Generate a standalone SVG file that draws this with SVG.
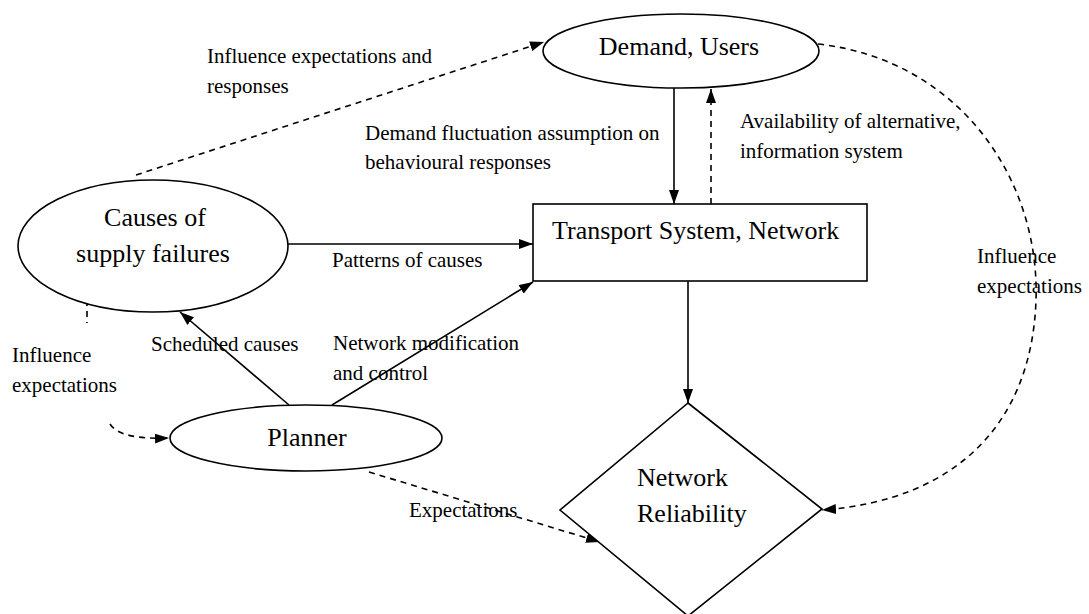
<svg xmlns="http://www.w3.org/2000/svg" width="1089" height="614" viewBox="0 0 1089 614">
<style>
.node{fill:#fff;stroke:#000;stroke-width:1.6}
.t{font-family:"Liberation Serif","Times New Roman",serif;fill:#000}
.nt{font-size:26px}
.lt{font-size:21px}
.c{fill:none;stroke:#000;stroke-width:1.6}
.d{stroke-dasharray:6 5}
</style>
<defs>
<marker id="ah" markerWidth="14" markerHeight="10" refX="14" refY="5" orient="auto" markerUnits="userSpaceOnUse">
<path d="M0,0 L14,5 L0,10 Z" fill="#000"/>
</marker>
</defs>
<rect width="1089" height="614" fill="#fff"/>
<g id="connectors">
<path class="c" d="M674,88 L674,204" marker-end="url(#ah)"/>
<path class="c d" d="M711,204 L711,89" marker-end="url(#ah)"/>
<path class="c" d="M288,244 L533,244" marker-end="url(#ah)"/>
<path class="c" d="M332,405 L533,282" marker-end="url(#ah)"/>
<path class="c" d="M289,405 L180,312" marker-end="url(#ah)"/>
<path class="c" d="M688,281 L688,403" marker-end="url(#ah)"/>
<path class="c d" d="M136,175 L544,42" marker-end="url(#ah)"/>
<path class="c d" d="M818,44 C960,60 1040,180 1036,300 C1032,420 960,500 822,510" marker-end="url(#ah)"/>
<path class="c d" d="M87,300 L87,323"/>
<path class="c d" d="M110,424 Q120,440 169,438" marker-end="url(#ah)"/>
<path class="c d" d="M369,472 L600,542" marker-end="url(#ah)"/>
</g>
<g id="demand">
<ellipse class="node" cx="681" cy="51" rx="138" ry="37"/>
<text class="t nt" x="679" y="55" text-anchor="middle">Demand, Users</text>
</g>
<g id="transport">
<rect class="node" x="533" y="204" width="334" height="77"/>
<text class="t nt" x="552" y="239">Transport System, Network</text>
</g>
<g id="causes">
<ellipse class="node" cx="153" cy="246" rx="135" ry="66"/>
<text class="t nt" x="155" y="226" text-anchor="middle" font-size="27">Causes of</text>
<text class="t nt" x="153" y="262" text-anchor="middle" font-size="27">supply failures</text>
</g>
<g id="planner">
<ellipse class="node" cx="306" cy="438" rx="136" ry="33"/>
<text class="t nt" x="307" y="446" text-anchor="middle">Planner</text>
</g>
<g id="reliability">
<polygon class="node" points="688,403 822,509 688,616 560,510"/>
<text class="t nt" x="637" y="486" font-size="25">Network</text>
<text class="t nt" x="637" y="522" font-size="25">Reliability</text>
</g>
<g id="labels">
<text class="t lt" x="207" y="63">Influence expectations and</text>
<text class="t lt" x="207" y="93">responses</text>
<text class="t lt" x="365" y="140">Demand fluctuation assumption on</text>
<text class="t lt" x="365" y="169">behavioural responses</text>
<text class="t lt" x="740" y="128">Availability of alternative,</text>
<text class="t lt" x="740" y="158">information system</text>
<text class="t lt" x="332" y="267">Patterns of causes</text>
<text class="t lt" x="151" y="351">Scheduled causes</text>
<text class="t lt" x="333" y="350">Network modification</text>
<text class="t lt" x="333" y="380">and control</text>
<text class="t lt" x="12" y="362">Influence</text>
<text class="t lt" x="12" y="392">expectations</text>
<text class="t lt" x="977" y="263">Influence</text>
<text class="t lt" x="977" y="293">expectations</text>
<text class="t lt" x="409" y="517" font-size="20">Expectations</text>
</g>
</svg>
